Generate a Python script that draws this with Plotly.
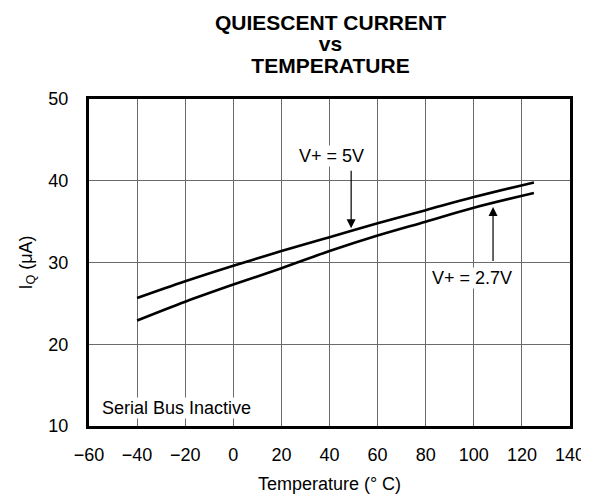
import plotly.graph_objects as go

temps = [-40, -20, 0, 20, 40, 60, 80, 100, 125]
iq_5v = [25.65, 27.7, 29.6, 31.4, 33.1, 34.8, 36.4, 38.0, 39.8]
iq_27v = [22.9, 25.2, 27.3, 29.3, 31.4, 33.3, 35.0, 36.7, 38.5]

x_ticks = [-60, -40, -20, 0, 20, 40, 60, 80, 100, 120, 140]
y_ticks = [10, 20, 30, 40, 50]

title_lines = ["QUIESCENT CURRENT", "vs", "TEMPERATURE"]

FONT = "Arial, Liberation Sans, Helvetica, sans-serif"
FS = 18

W, H = 589, 495
ML, MR, MT, MB = 81, 17, 91, 73
plot_h = H - MT - MB

fig = go.Figure()
fig.add_trace(go.Scatter(x=temps, y=iq_5v, mode="lines", name="V+ = 5V",
                         line=dict(color="black", width=2.6, shape="spline")))
fig.add_trace(go.Scatter(x=temps, y=iq_27v, mode="lines", name="V+ = 2.7V",
                         line=dict(color="black", width=2.6, shape="spline")))

# arrows
fig.add_annotation(x=49, y=34.2, ax=49, ay=41.4, axref="x", ayref="y", xref="x", yref="y",
                   text="", showarrow=True, arrowhead=2, arrowsize=1.5, arrowwidth=1.2, arrowcolor="black")
fig.add_annotation(x=108, y=36.8, ax=108, ay=30.0, axref="x", ayref="y", xref="x", yref="y",
                   text="", showarrow=True, arrowhead=2, arrowsize=1.5, arrowwidth=1.2, arrowcolor="black")

fig.add_annotation(x=40.7, y=43, text="V+ = 5V", showarrow=False, bgcolor="white", borderpad=0,
                   font=dict(family=FONT, size=FS, color="black"))
fig.add_annotation(x=99.3, y=28.1, text="V+ = 2.7V", showarrow=False, bgcolor="white", borderpad=0,
                   font=dict(family=FONT, size=FS, color="black"))
fig.add_annotation(x=-55, y=12.2, text="Serial Bus Inactive", showarrow=False, bgcolor="white",
                   borderpad=0, xanchor="left", font=dict(family=FONT, size=FS, color="black"))

# title: one text block, tight line spacing (base size sets spacing, spans set glyph size)
title_html = "<br>".join('<span style="font-size:21px"><b>' + t + "</b></span>" for t in title_lines)
fig.add_annotation(x=0.503, xref="paper", y=(H - MB - 35.7) / plot_h, yref="paper",
                   text=title_html, showarrow=False, xanchor="center", yanchor="middle",
                   align="center", font=dict(family=FONT, size=16.5, color="black"))

fig.update_layout(
    width=W, height=H,
    margin=dict(l=ML, r=MR, t=MT, b=MB),
    paper_bgcolor="white", plot_bgcolor="white",
    showlegend=False,
    font=dict(family=FONT, size=FS, color="black"),
)
fig.update_xaxes(range=[-60, 140], tickvals=x_ticks, showgrid=True, gridcolor="#6a6a6a", gridwidth=1,
                 showline=True, linecolor="black", linewidth=3, mirror=True, zeroline=False,
                 ticks="outside", ticklen=10, tickcolor="rgba(0,0,0,0)",
                 title=dict(text="Temperature (° C)", standoff=14, font=dict(size=FS)))
fig.update_yaxes(range=[10, 50], tickvals=y_ticks, showgrid=True, gridcolor="#6a6a6a", gridwidth=1,
                 showline=True, linecolor="black", linewidth=3, mirror=True, zeroline=False,
                 ticks="outside", ticklen=14, tickcolor="rgba(0,0,0,0)",
                 title=dict(text="I<sub>Q</sub> (μA)", standoff=12, font=dict(size=FS)))

fig.write_html("out.html")
